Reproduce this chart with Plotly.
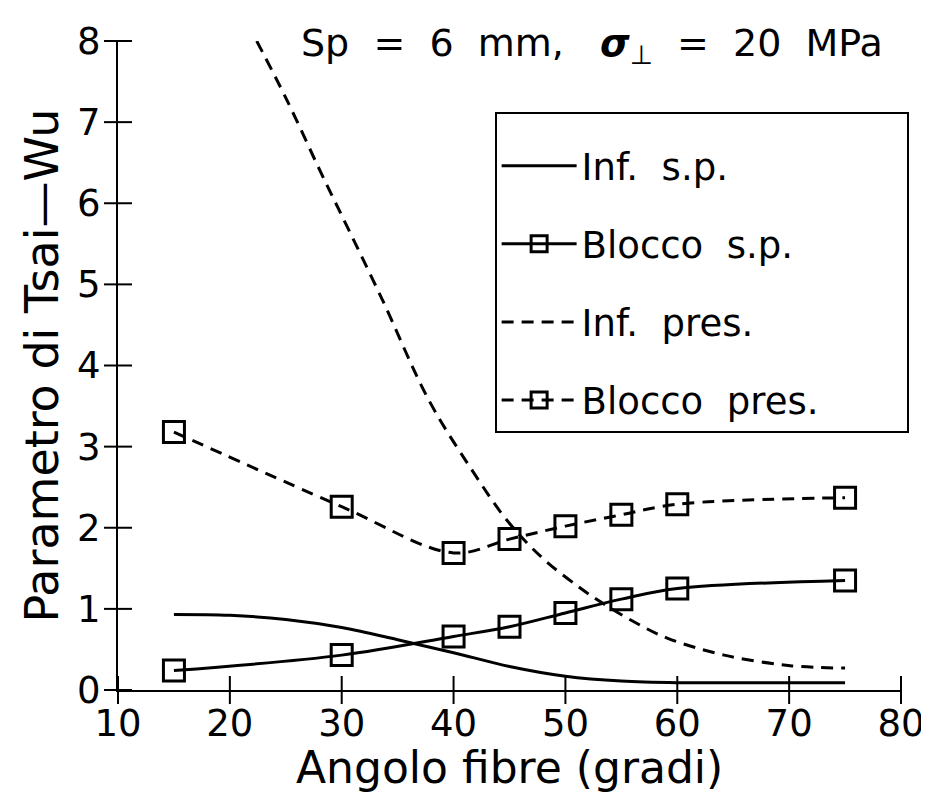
import plotly.graph_objects as go

# Blocco (marker) angles
blk_x = [15, 30, 40, 45, 50, 55, 60, 75]
blk_sp_y = [0.24, 0.43, 0.66, 0.78, 0.95, 1.12, 1.25, 1.35]
blk_pres_y = [3.18, 2.26, 1.69, 1.86, 2.02, 2.16, 2.29, 2.37]

# Inf. s.p. curve
inf_sp_x = [15, 20, 25, 30, 35, 40, 45, 50, 55, 60, 65, 70, 75]
inf_sp_y = [0.93, 0.92, 0.87, 0.77, 0.62, 0.46, 0.29, 0.17, 0.11, 0.09, 0.09, 0.09, 0.09]

# Inf. pres. curve
inf_pres_x = [22.4, 25, 28.1, 30, 33.5, 37.8, 41.6, 44.9, 48, 51.1, 53.1, 56, 59.1, 64.2, 70.1, 75]
inf_pres_y = [8.0, 7.3, 6.39, 5.85, 4.85, 3.57, 2.72, 2.07, 1.62, 1.28, 1.09, 0.85, 0.64, 0.43, 0.30, 0.27]

x_ticks = [10, 20, 30, 40, 50, 60, 70, 80]
y_ticks = [0, 1, 2, 3, 4, 5, 6, 7, 8]

FONT = "DejaVu Sans"
DASH = "12px,8px"
PAD = "\u00a0" * 7
fig = go.Figure()

fig.add_trace(go.Scatter(x=inf_sp_x, y=inf_sp_y, mode="lines", name="Inf.  s.p." + PAD,
                         line=dict(color="black", width=3, shape="spline"),
                         legendgroup="a"))
fig.add_trace(go.Scatter(x=blk_x, y=blk_sp_y, mode="lines+markers", name="Blocco  s.p.",
                         line=dict(color="black", width=3, shape="spline"),
                         marker=dict(symbol="square-open", size=21, color="black",
                                     line=dict(width=3, color="black")),
                         legendgroup="b"))
fig.add_trace(go.Scatter(x=inf_pres_x, y=inf_pres_y, mode="lines", name="Inf.  pres.",
                         line=dict(color="black", width=3, dash=DASH, shape="spline"),
                         legendgroup="c"))
fig.add_trace(go.Scatter(x=blk_x, y=blk_pres_y, mode="lines+markers", name="Blocco  pres." + PAD,
                         line=dict(color="black", width=3, dash=DASH, shape="spline"),
                         marker=dict(symbol="square-open", size=21, color="black",
                                     line=dict(width=3, color="black")),
                         legendgroup="d"))

# crossing tick marks on both axes ("+" style), placed at the tick values
fig.add_trace(go.Scatter(x=x_ticks, y=[y_ticks[0]] * len(x_ticks), mode="markers",
                         marker=dict(symbol="line-ns-open", size=20, color="black",
                                     line=dict(width=2, color="black")),
                         cliponaxis=False, showlegend=False, hoverinfo="skip"))
fig.add_trace(go.Scatter(x=[x_ticks[0]] * len(y_ticks), y=y_ticks, mode="markers",
                         marker=dict(symbol="line-ew-open", size=20, color="black",
                                     line=dict(width=2, color="black")),
                         cliponaxis=False, showlegend=False, hoverinfo="skip"))

axis_common = dict(showgrid=False, zeroline=False, showline=True, linecolor="black",
                   linewidth=2, ticks="", tickfont=dict(family=FONT, size=37, color="black"))

fig.update_layout(
    width=929, height=795,
    margin=dict(l=110, r=34, t=28, b=113),
    paper_bgcolor="white", plot_bgcolor="white",
    font=dict(family=FONT, color="black"),
    xaxis=dict(range=[10, 80], tickvals=x_ticks, ticklabelstandoff=0, **axis_common),
    yaxis=dict(range=[0, 8], tickvals=y_ticks, ticklabelstandoff=8, **axis_common,
               title=dict(text="Parametro di Tsai—Wu", font=dict(family=FONT, size=46), standoff=4)),
    legend=dict(x=0.481, y=0.89, xanchor="left", yanchor="top",
                bgcolor="white", bordercolor="black", borderwidth=2,
                font=dict(family=FONT, size=37, color="black"),
                title=dict(text=" ", font=dict(size=16)),
                traceorder="grouped", tracegroupgap=27,
                itemwidth=75),
    showlegend=True,
)

fig.add_annotation(text="Angolo fibre (gradi)", xref="paper", yref="paper",
                   x=0.5, y=-(760 - 682) / 654, xanchor="center", yanchor="middle",
                   showarrow=False, font=dict(family=FONT, size=44, color="black"))

fig.add_annotation(text="Sp  =  6  mm,   <b><i>σ</i></b><sub>⊥</sub>  =  20  MPa",
                   xref="paper", yref="paper", x=0.98, y=(682 - 33) / 654,
                   xanchor="right", yanchor="middle",
                   showarrow=False, font=dict(family=FONT, size=38, color="black"))

fig.write_html("out.html")
